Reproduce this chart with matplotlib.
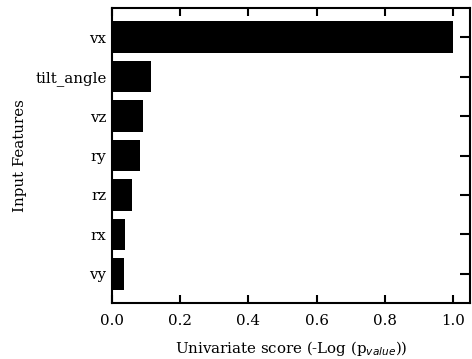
import matplotlib
matplotlib.use("Agg")
import matplotlib.pyplot as plt

features = ["vx", "tilt_angle", "vz", "ry", "rz", "rx", "vy"]
scores = [1.0, 0.114, 0.092, 0.083, 0.060, 0.038, 0.036]
xticks = [0.0, 0.2, 0.4, 0.6, 0.8, 1.0]

plt.rcParams['font.family'] = 'DejaVu Serif'
plt.rcParams['font.size'] = 10.8

fig = plt.figure(figsize=(4.72, 3.59), dpi=100)
ax = fig.add_axes([112/472, 1 - 303/359, (470-112)/472, (303-8)/359])
ypos = list(range(len(features)))[::-1]
ax.barh(ypos, scores, height=0.8, color='black')
ax.set_yticks(ypos)
ax.set_yticklabels(features)
ax.set_xticks(xticks)
ax.set_xticklabels([f"{t:.1f}" for t in xticks])
ax.set_xlim(0, 1.05)
ax.tick_params(axis='x', direction='in', top=True, length=5.5, width=1.5, pad=8)
ax.tick_params(axis='y', direction='in', right=True, length=7.5, width=1.5, pad=4)
for s in ax.spines.values():
    s.set_linewidth(1.5)
ax.set_xlabel(r"Univariate score (-Log (p$_{value}$))", labelpad=7.5)
ax.set_ylabel("Input Features", labelpad=6)
fig.savefig("out.png", dpi=100)
